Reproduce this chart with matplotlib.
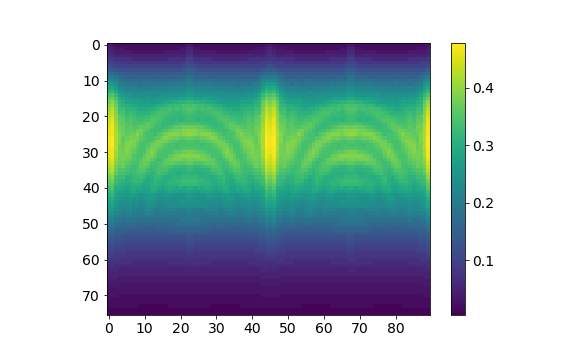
"""Heatmap with colorbar, values read by eye off the reference image."""

import numpy as np
import matplotlib

matplotlib.use("Agg")
import matplotlib.pyplot as plt

# Estimated cell values in hundredths, columns 0..22 of each row (0..75).
# The picture repeats this block about columns 22 and 45, so only this block is read.
ROWS_00_09 = [
    [4, 3, 2, 2, 2, 2, 2, 2, 2, 2, 2, 2, 2, 2, 2, 2, 2, 2, 2, 2, 2, 2, 4],
    [5, 4, 3, 3, 3, 2, 2, 2, 2, 2, 2, 2, 2, 2, 2, 2, 2, 2, 2, 2, 3, 3, 5],
    [6, 5, 4, 4, 4, 4, 4, 3, 3, 3, 3, 3, 3, 3, 3, 3, 4, 4, 4, 4, 4, 4, 6],
    [7, 6, 5, 5, 5, 5, 5, 5, 5, 5, 5, 5, 5, 5, 5, 5, 5, 5, 5, 5, 5, 5, 7],
    [8, 8, 7, 7, 7, 7, 7, 6, 6, 6, 6, 6, 6, 6, 6, 6, 6, 7, 7, 7, 7, 7, 9],
    [10, 9, 9, 9, 8, 8, 8, 8, 8, 8, 8, 8, 8, 8, 8, 8, 8, 8, 8, 8, 8, 9, 10],
    [12, 11, 10, 10, 10, 10, 10, 10, 10, 10, 10, 10, 10, 10, 10, 10, 10, 10, 10, 10, 10, 11, 12],
    [14, 14, 13, 12, 12, 12, 12, 12, 12, 12, 12, 12, 12, 12, 12, 12, 12, 12, 12, 12, 12, 13, 14],
    [17, 17, 16, 15, 14, 14, 14, 14, 14, 14, 14, 14, 14, 14, 14, 14, 14, 14, 14, 14, 14, 15, 16],
    [20, 20, 19, 17, 16, 15, 15, 15, 15, 16, 15, 15, 16, 15, 15, 16, 15, 15, 16, 16, 16, 16, 18],
]
ROWS_10_29 = [
    [23, 23, 22, 19, 18, 17, 18, 17, 17, 17, 18, 17, 17, 18, 17, 17, 18, 18, 18, 18, 18, 18, 20],
    [26, 26, 24, 21, 20, 19, 18, 19, 19, 18, 19, 19, 19, 19, 19, 19, 19, 20, 20, 20, 20, 20, 21],
    [29, 29, 27, 23, 22, 21, 21, 21, 21, 20, 21, 20, 21, 21, 21, 21, 21, 22, 21, 22, 22, 22, 23],
    [31, 32, 29, 26, 24, 23, 23, 23, 22, 22, 22, 23, 22, 23, 23, 23, 23, 23, 24, 23, 24, 24, 25],
    [34, 35, 32, 28, 26, 25, 25, 24, 24, 24, 24, 24, 24, 24, 24, 25, 25, 25, 25, 25, 25, 25, 27],
    [36, 37, 34, 30, 28, 27, 27, 26, 26, 25, 25, 25, 25, 25, 26, 26, 26, 27, 28, 27, 28, 28, 29],
    [38, 40, 36, 31, 30, 28, 28, 28, 28, 27, 26, 27, 26, 27, 27, 28, 29, 29, 30, 30, 31, 31, 32],
    [39, 41, 37, 32, 31, 30, 30, 29, 29, 28, 28, 28, 28, 29, 30, 30, 31, 32, 32, 33, 33, 34, 34],
    [41, 43, 38, 33, 33, 31, 31, 31, 30, 29, 29, 30, 30, 31, 32, 33, 33, 34, 33, 34, 33, 34, 35],
    [42, 44, 39, 34, 34, 32, 33, 32, 31, 31, 31, 31, 32, 33, 34, 34, 34, 33, 33, 32, 32, 33, 34],
    [43, 45, 40, 36, 35, 33, 34, 33, 32, 32, 32, 33, 34, 34, 34, 34, 33, 32, 32, 32, 32, 32, 33],
    [44, 46, 40, 36, 36, 34, 35, 34, 33, 33, 34, 34, 35, 35, 34, 33, 32, 32, 31, 32, 31, 32, 33],
    [45, 46, 41, 37, 36, 35, 35, 34, 34, 34, 35, 36, 35, 34, 33, 32, 32, 32, 33, 33, 34, 34, 34],
    [45, 47, 41, 38, 37, 35, 36, 35, 35, 36, 36, 36, 35, 33, 33, 32, 33, 34, 35, 36, 36, 37, 37],
    [46, 47, 42, 38, 37, 36, 36, 36, 37, 38, 36, 35, 33, 33, 33, 34, 35, 36, 37, 38, 38, 39, 39],
    [46, 47, 42, 39, 37, 36, 37, 37, 39, 37, 35, 34, 34, 33, 35, 36, 38, 39, 39, 39, 38, 39, 40],
    [47, 48, 42, 39, 36, 37, 38, 38, 38, 36, 35, 34, 34, 35, 36, 38, 39, 38, 37, 37, 36, 36, 37],
    [47, 48, 42, 39, 36, 38, 39, 39, 37, 35, 34, 34, 35, 37, 38, 38, 37, 36, 35, 35, 34, 34, 35],
    [47, 48, 42, 38, 37, 39, 39, 38, 36, 34, 34, 35, 37, 38, 38, 36, 35, 34, 34, 33, 34, 34, 34],
    [46, 47, 42, 38, 37, 39, 38, 37, 35, 34, 34, 36, 38, 38, 36, 35, 34, 34, 34, 34, 34, 35, 35],
]
ROWS_30_49 = [
    [46, 47, 41, 38, 38, 39, 38, 36, 35, 34, 35, 37, 39, 37, 35, 34, 34, 34, 35, 36, 36, 37, 38],
    [45, 47, 41, 38, 38, 38, 37, 35, 34, 34, 36, 38, 38, 36, 34, 34, 34, 36, 37, 38, 39, 39, 39],
    [44, 46, 40, 37, 38, 37, 36, 35, 34, 35, 37, 38, 36, 34, 33, 34, 36, 37, 38, 38, 38, 37, 38],
    [43, 45, 39, 37, 37, 36, 35, 34, 34, 36, 37, 36, 34, 33, 34, 35, 36, 36, 36, 35, 35, 35, 36],
    [42, 44, 38, 36, 37, 35, 34, 33, 34, 36, 36, 35, 33, 33, 34, 35, 35, 34, 33, 33, 32, 32, 33],
    [41, 43, 37, 35, 35, 34, 33, 33, 34, 35, 35, 33, 32, 33, 34, 34, 34, 32, 31, 31, 31, 31, 32],
    [40, 41, 36, 34, 34, 33, 32, 33, 34, 34, 33, 32, 31, 32, 34, 33, 32, 31, 31, 30, 30, 31, 31],
    [38, 40, 34, 33, 33, 31, 31, 32, 33, 33, 32, 30, 31, 32, 32, 31, 30, 30, 31, 31, 31, 32, 32],
    [36, 38, 33, 32, 31, 30, 31, 32, 32, 32, 30, 29, 30, 32, 31, 30, 30, 31, 31, 32, 32, 33, 33],
    [35, 36, 32, 31, 30, 29, 30, 31, 31, 30, 29, 29, 30, 31, 30, 29, 30, 31, 31, 31, 32, 32, 32],
    [33, 35, 30, 30, 29, 28, 29, 30, 29, 29, 28, 28, 30, 30, 29, 28, 29, 30, 30, 29, 30, 29, 30],
    [32, 33, 29, 28, 28, 27, 29, 29, 28, 28, 27, 28, 29, 29, 27, 27, 28, 29, 28, 28, 27, 28, 28],
    [30, 32, 28, 27, 26, 26, 27, 27, 26, 25, 25, 26, 27, 26, 25, 25, 26, 26, 25, 25, 25, 25, 26],
    [29, 30, 27, 26, 25, 25, 26, 25, 25, 24, 25, 26, 26, 25, 24, 24, 25, 25, 24, 24, 24, 24, 25],
    [28, 29, 26, 25, 24, 24, 25, 24, 24, 23, 24, 25, 25, 24, 23, 23, 24, 24, 24, 24, 25, 25, 25],
    [27, 28, 25, 24, 23, 23, 24, 23, 23, 22, 23, 24, 24, 23, 22, 23, 23, 23, 24, 24, 24, 24, 24],
    [25, 26, 24, 23, 22, 22, 23, 22, 21, 21, 22, 23, 22, 21, 21, 22, 22, 22, 22, 21, 21, 21, 22],
    [24, 25, 22, 22, 21, 21, 22, 21, 20, 20, 21, 22, 21, 20, 20, 21, 21, 20, 20, 20, 20, 20, 21],
    [22, 23, 21, 20, 19, 20, 20, 20, 19, 19, 20, 20, 19, 19, 19, 20, 19, 19, 19, 19, 19, 19, 20],
    [21, 22, 19, 19, 18, 18, 19, 18, 18, 18, 18, 18, 18, 18, 18, 18, 18, 18, 18, 18, 19, 19, 19],
]
ROWS_50_75 = [
    [19, 20, 18, 18, 17, 17, 17, 17, 16, 17, 17, 17, 16, 17, 17, 17, 16, 17, 17, 18, 18, 18, 18],
    [18, 18, 17, 16, 16, 16, 16, 15, 15, 15, 15, 15, 15, 15, 16, 15, 15, 16, 16, 16, 16, 16, 16],
    [16, 17, 15, 15, 15, 14, 14, 14, 14, 14, 14, 14, 14, 14, 14, 14, 14, 14, 15, 15, 15, 15, 15],
    [15, 15, 14, 14, 13, 13, 13, 13, 13, 13, 13, 13, 13, 13, 13, 13, 13, 13, 13, 13, 13, 13, 14],
    [14, 14, 13, 13, 12, 12, 12, 12, 12, 12, 12, 12, 12, 12, 12, 12, 12, 12, 12, 12, 12, 12, 13],
    [13, 13, 12, 12, 11, 11, 11, 11, 11, 11, 11, 11, 11, 11, 11, 11, 11, 11, 11, 11, 11, 11, 12],
    [12, 12, 11, 11, 10, 10, 10, 10, 10, 10, 10, 10, 10, 10, 10, 10, 10, 10, 10, 10, 10, 10, 11],
    [11, 11, 10, 10, 10, 9, 9, 9, 9, 9, 9, 9, 9, 9, 9, 9, 9, 9, 9, 9, 9, 9, 10],
    [10, 10, 9, 9, 9, 8, 8, 8, 8, 8, 8, 8, 8, 8, 8, 8, 8, 8, 8, 8, 8, 8, 9],
    [9, 9, 8, 8, 8, 8, 8, 8, 8, 8, 8, 8, 8, 8, 8, 8, 8, 8, 8, 8, 8, 8, 8],
    [8, 8, 8, 8, 7, 7, 7, 7, 7, 7, 7, 7, 7, 7, 7, 7, 7, 7, 7, 7, 7, 7, 8],
    [7, 7, 7, 7, 7, 7, 7, 6, 6, 6, 6, 6, 6, 6, 6, 6, 6, 7, 7, 7, 7, 7, 7],
    [6, 7, 6, 6, 6, 6, 6, 6, 6, 6, 6, 6, 6, 6, 6, 6, 6, 6, 6, 6, 6, 6, 6],
    [6, 6, 6, 5, 5, 5, 5, 5, 5, 5, 5, 5, 5, 5, 5, 5, 5, 5, 5, 5, 5, 5, 6],
    [5, 5, 5, 5, 5, 5, 5, 5, 5, 5, 5, 5, 5, 5, 5, 5, 5, 5, 5, 5, 5, 5, 5],
    [5, 5, 5, 4, 4, 4, 4, 4, 4, 4, 4, 4, 4, 4, 4, 4, 4, 4, 4, 4, 4, 4, 4],
    [4, 4, 4, 4, 4, 4, 4, 4, 4, 4, 4, 4, 4, 4, 4, 4, 4, 4, 4, 4, 4, 4, 4],
    [4, 4, 4, 3, 3, 3, 3, 3, 3, 3, 3, 3, 3, 3, 3, 3, 3, 3, 3, 3, 3, 3, 3],
    [3, 3, 3, 3, 3, 3, 3, 3, 3, 3, 3, 3, 3, 3, 3, 3, 3, 3, 3, 3, 3, 3, 3],
    [3, 3, 3, 3, 3, 3, 3, 3, 3, 3, 3, 3, 3, 3, 3, 3, 3, 3, 3, 3, 3, 3, 3],
    [3, 3, 3, 2, 2, 2, 2, 2, 2, 2, 2, 2, 2, 2, 2, 2, 2, 2, 2, 2, 2, 2, 2],
    [2, 2, 2, 2, 2, 2, 2, 2, 2, 2, 2, 2, 2, 2, 2, 2, 2, 2, 2, 2, 2, 2, 2],
    [2, 2, 2, 2, 2, 2, 2, 2, 2, 2, 2, 2, 2, 2, 2, 2, 2, 2, 2, 2, 2, 2, 2],
    [2, 2, 2, 2, 2, 2, 2, 2, 2, 1, 1, 1, 1, 1, 1, 1, 1, 2, 2, 2, 2, 2, 2],
    [1, 1, 1, 1, 1, 1, 1, 1, 1, 1, 1, 1, 1, 1, 1, 1, 1, 1, 1, 1, 1, 1, 1],
    [1, 1, 1, 1, 1, 1, 1, 1, 1, 1, 1, 1, 1, 1, 1, 1, 1, 1, 1, 1, 1, 1, 1],
]
X_TICKS = [0, 10, 20, 30, 40, 50, 60, 70, 80]
Y_TICKS = [0, 10, 20, 30, 40, 50, 60, 70]
CBAR_TICKS = [0.1, 0.2, 0.3, 0.4]


def main():
    block = np.array(ROWS_00_09 + ROWS_10_29 + ROWS_30_49 + ROWS_50_75, dtype=float) / 100.0

    # column -> block index: repeats every 45 columns, mirrored about column 22
    cols = np.arange(90) % 45
    cols = np.where(cols > 22, 45 - cols, cols)
    grid = block[:, cols]

    plt.rcParams["font.size"] = 14
    fig = plt.figure(figsize=(8, 5), dpi=72)
    ax = fig.add_axes([107 / 576, 1 - 315 / 360, 323 / 576, 272 / 360])
    im = ax.imshow(grid, cmap="viridis", vmin=0.005, vmax=0.478, aspect="auto", interpolation="nearest")
    ax.set_xticks(X_TICKS)
    ax.set_yticks(Y_TICKS)

    cax = fig.add_axes([451 / 576, 1 - 315 / 360, 14 / 576, 272 / 360])
    cbar = fig.colorbar(im, cax=cax)
    cbar.set_ticks(CBAR_TICKS)

    fig.savefig("out.png", dpi=72)


if __name__ == "__main__":
    main()
